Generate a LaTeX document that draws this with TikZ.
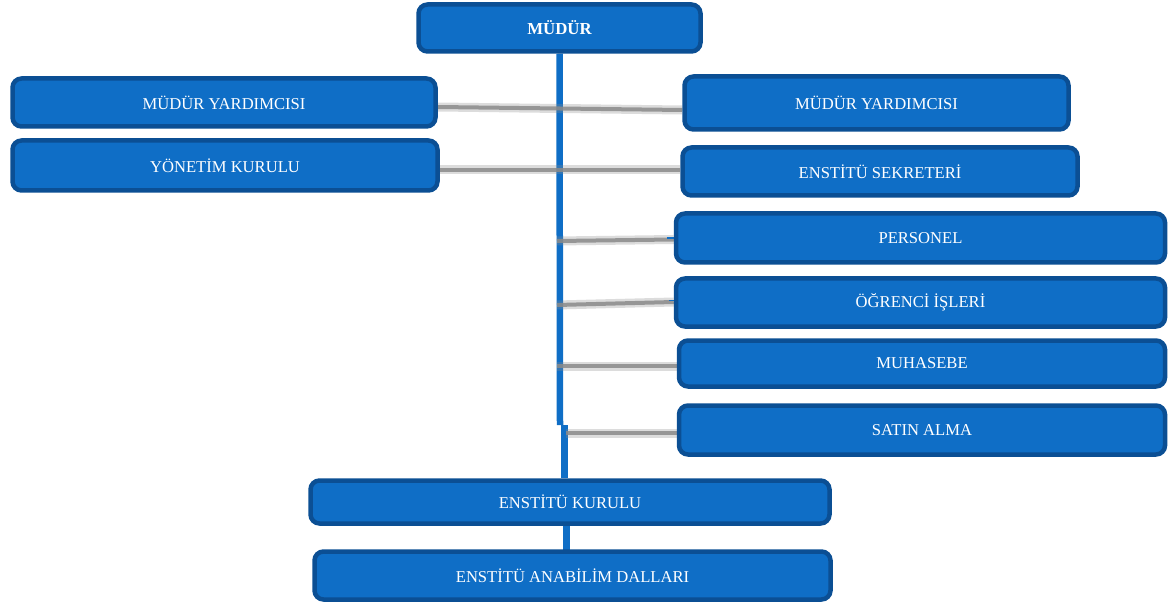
\documentclass[tikz,border=0pt]{standalone}
\usepackage{fontspec}
\setmainfont{Liberation Serif}
\usetikzlibrary{backgrounds}
\definecolor{boxfill}{HTML}{0F6EC6}
\definecolor{boxline}{HTML}{0B4F94}
\definecolor{shade}{HTML}{8A8A8A}
\tikzset{
  box/.style={draw=boxline, fill=boxfill, line width=4.5pt, rounded corners=9pt,
    text=white, font=\fontsize{16.6}{18}\selectfont, inner sep=0pt},
  spine/.style={draw=boxfill, line width=6.5pt},
  spinewide/.style={draw=boxfill, line width=7pt},
  shadowline/.style={draw=shade, line width=4pt, opacity=0.85},
  shadowsoft/.style={draw=shade, line width=9pt, opacity=0.3},
  tick/.style={draw=boxfill, line width=1.2pt}
}
\begin{document}
\begin{tikzpicture}[x=1pt,y=-1pt]
\useasboundingbox (0,0) rectangle (1168,604);
% nodes
\node[box, minimum width=282pt, minimum height=47pt, font=\fontsize{16.8}{18}\selectfont\bfseries] (mudur) at (559.5,28) {MÜDÜR};
\node[box, minimum width=423pt, minimum height=48pt] (myl) at (224,102.5) {MÜDÜR YARDIMCISI};
\node[box, minimum width=425pt, minimum height=50pt] (yk) at (225,165.5) {YÖNETİM KURULU};
\node[box, minimum width=384pt, minimum height=53pt] (myr) at (876.5,103) {MÜDÜR YARDIMCISI};
\node[box, minimum width=395pt, minimum height=48pt] (es) at (880,171.5) {ENSTİTÜ SEKRETERİ};
\node[box, minimum width=489pt, minimum height=49pt] (per) at (920.5,238) {PERSONEL};
\node[box, minimum width=489pt, minimum height=48pt] (oi) at (920.5,302.5) {ÖĞRENCİ İŞLERİ};
\node[box, minimum width=486pt, minimum height=46pt] (muh) at (922,363.5) {MUHASEBE};
\node[box, minimum width=486pt, minimum height=49pt] (sa) at (922,430) {SATIN ALMA};
\node[box, minimum width=519pt, minimum height=43pt] (ek) at (570,502) {ENSTİTÜ KURULU};
\node[box, minimum width=516pt, minimum height=48pt] (ead) at (572.5,575.5) {ENSTİTÜ ANABİLİM DALLARI};
% free connector ends on the spine
\coordinate (s3) at (557,241);
\coordinate (s4) at (557,305);
\coordinate (s5) at (557,366);
\coordinate (s6) at (566,433);
\coordinate (mid) at (560,425);
\coordinate (midb) at (564,425);
\begin{scope}[on background layer]
  \draw[spine] (mudur.south) -- (mid);
  \draw[spinewide] (midb) -- ([xshift=-6pt]ek.north);
  \draw[spinewide] ([xshift=-4pt,yshift=2pt]ek.south) -- ([xshift=-6.5pt,yshift=-2pt]ead.north);
  \foreach \a/\da/\b/\db in {myl.east/-4.5/myr.west/-7, yk.east/-4.5/es.west/1.5, s3/0/per.west/-1.5, s4/0/oi.west/0.5, s5/0/muh.west/-2.5, s6/0/sa.west/-3}{
    \draw[shadowsoft] ([yshift=\da pt]\a) -- ([yshift=\db pt]\b);
    \draw[shadowline] ([yshift=\da pt]\a) -- ([yshift=\db pt]\b);
  }
  \draw[tick] ([xshift=-7pt]per.west) -- (per.west);
  \draw[tick] ([xshift=-5pt,yshift=2pt]oi.west) -- ([yshift=2pt]oi.west);
\end{scope}
\end{tikzpicture}
\end{document}
